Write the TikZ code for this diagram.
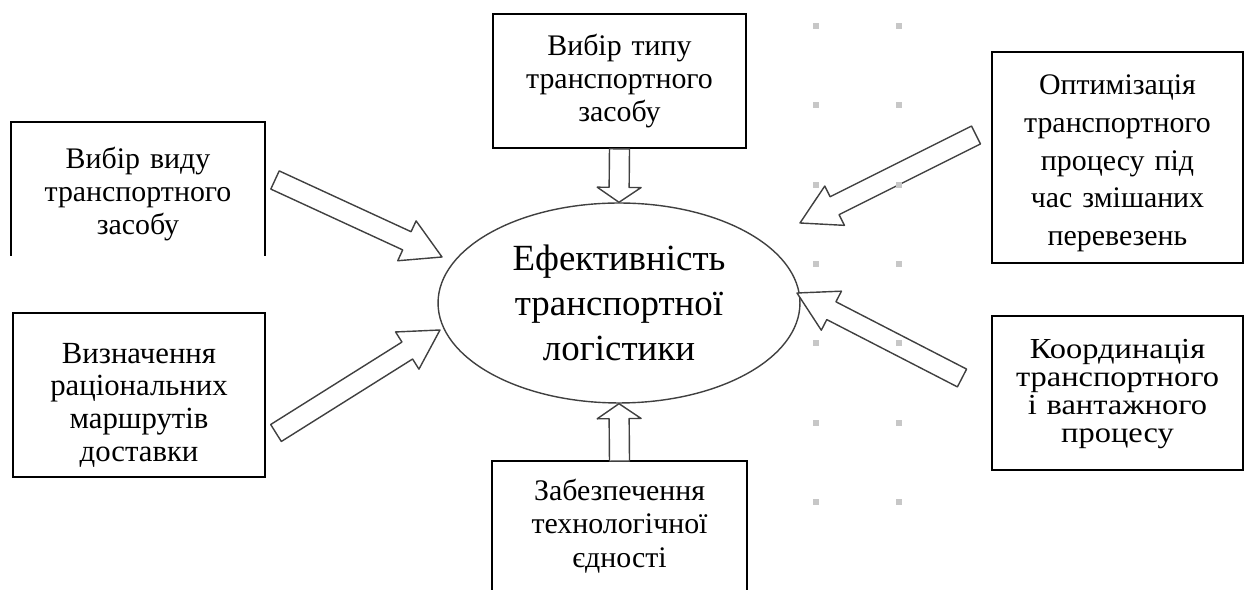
\documentclass[tikz,border=0pt]{standalone}
\usepackage{fontspec}
\setmainfont{Liberation Serif}
\newfontfamily\widefont{Liberation Serif}[FakeStretch=1.12]
\usetikzlibrary{shapes.geometric,calc}
\tikzset{frame/.style={draw, line width=1pt, minimum width=5.04cm, inner sep=0pt},
  openframe/.style={frame, draw=none},
  boxtext/.style={text width=4.8cm, align=center, inner sep=0pt, font=\fontsize{17}{19}\selectfont},
  hollow/.style={draw=black!75, line width=0.8pt, fill=white, line join=round},
  dot/.style={fill=black!22}}
% hollow block arrow: [head length]{tail}{tip}
\newcommand{\hollowarrow}[3][22pt]{%
  \coordinate (hb) at ($(#3)!#1!(#2)$);
  \draw[hollow] ($(#2)!5.7pt!90:(#3)$) -- ($(hb)!5.7pt!-90:(#2)$) -- ($(hb)!12.5pt!-90:(#2)$)
    -- (#3) -- ($(hb)!12.5pt!90:(#2)$) -- ($(hb)!5.7pt!90:(#2)$) -- ($(#2)!5.7pt!-90:(#3)$) -- cycle;}

\begin{document}
\begin{tikzpicture}[x=0.02cm,y=-0.02cm]
    \useasboundingbox (0,0) rectangle (1248,590);

    % centre
    \node[ellipse, draw=black!75, line width=0.8pt, minimum width=7.24cm, minimum height=4cm,
      inner sep=0pt, align=center, font=\fontsize{21}{25.5}\selectfont] (eff) at (619,303)
      {Ефективність\\транспортної\\логістики};

    % boxes
    \node[openframe, minimum height=2.64cm] (vyd) at (138,189) {};
    \draw[line width=1pt] (vyd.south west) -- (vyd.north west) -- (vyd.north east) -- (vyd.south east);
    \node[boxtext] (vyd-t) at ([yshift=-0.1cm]vyd.center) {Вибір виду\\транспортного\\засобу};

    \node[frame, minimum width=5.06cm, minimum height=2.68cm] (typ) at (619.5,81) {};
    \node[boxtext] (typ-t) at (typ.center) {Вибір типу\\транспортного\\засобу};

    \node[frame, minimum width=5.02cm, minimum height=4.22cm] (opt) at (1117.5,157.5) {};
    \node[boxtext, font=\fontsize{17}{21.5}\selectfont] (opt-t) at ([yshift=-0.12cm]opt.center)
      {Оптимізація\\транспортного\\процесу під\\час змішаних\\перевезень};

    \node[frame, minimum height=3.28cm] (marsh) at (139,395) {};
    \node[boxtext, font=\fontsize{17.5}{18.6}\selectfont] (marsh-t) at ([yshift=-0.2cm]marsh.center)
      {Визначення\\раціональних\\маршрутів\\доставки};

    \node[frame, minimum width=5.02cm, minimum height=3.08cm] (koord) at (1117.5,393) {};
    \node[boxtext, font=\widefont\fontsize{16.5}{16}\selectfont] (koord-t) at ([yshift=-0.02cm]koord.center)
      {Координація\\транспортного\\і вантажного\\процесу};

    \node[openframe, minimum width=5.06cm, minimum height=2.56cm] (yed) at (619.5,526) {};
    \draw[line width=1pt] (yed.south west) -- (yed.north west) -- (yed.north east) -- (yed.south east);
    \node[boxtext] (yed-t) at (yed.center) {Забезпечення\\технологічної\\єдності};

    % arrow ends
    \coordinate (t1) at (275,180); \coordinate (p1) at (442,257);
    \coordinate (t2) at (276,433); \coordinate (p2) at (440,330);
    \coordinate (t5) at (976,135); \coordinate (p5) at (800,223);
    \coordinate (t6) at (962,378); \coordinate (p6) at (797,293);

    \hollowarrow{t1}{p1}
    \hollowarrow{t2}{p2}
    \hollowarrow{t5}{p5}
    \hollowarrow{t6}{p6}
    \hollowarrow[8.5pt]{typ.south}{eff.north}
    \hollowarrow[8.5pt]{yed.north}{eff.south}

    % grey marks
    \foreach \y in {26,105,185,264,343,423,502}{
      \fill[dot] (813,\y-3) rectangle ++(6,6);
      \fill[dot] (896,\y-3) rectangle ++(6,6);
    }
\end{tikzpicture}
\end{document}
